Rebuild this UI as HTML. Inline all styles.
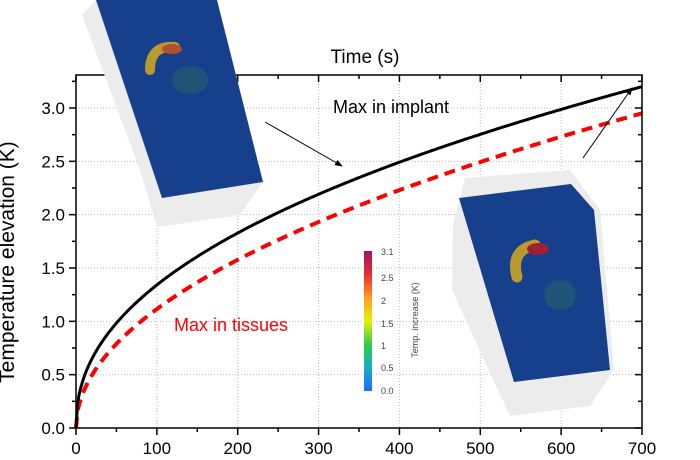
<!DOCTYPE html>
<html><head><meta charset="utf-8"><style>
html,body{margin:0;padding:0;background:#fff;width:700px;height:460px;overflow:hidden}
text{font-family:"Liberation Sans",Arial,sans-serif}
</style></head><body>
<svg id="s" width="700" height="460" xmlns="http://www.w3.org/2000/svg">
<defs>
<linearGradient id="cb" x1="0" y1="1" x2="0" y2="0">
<stop offset="0" stop-color="#1e6cff"/><stop offset="0.17" stop-color="#13b0c0"/><stop offset="0.33" stop-color="#2ecc50"/><stop offset="0.5" stop-color="#e8f000"/><stop offset="0.66" stop-color="#ffa020"/><stop offset="0.82" stop-color="#f03030"/><stop offset="1" stop-color="#a0106a"/>
</linearGradient>
<marker id="ah" markerWidth="8" markerHeight="8" refX="7" refY="4" orient="auto"><path d="M0,1 L8,4 L0,7 Z" fill="#000"/></marker>
</defs>
<g id="grid" stroke="#bbb" stroke-width="1" stroke-dasharray="1,2"></g>
<g id="curves"></g>
<g id="axes" stroke="#000" stroke-width="1.5" fill="none"></g>
<polygon points="82,15 96,0 217,0 263,182 240,215 157,227 140,170" fill="#ececec"/>
<polygon points="96,0 217,0 263,182 162,198" fill="#163f8c"/>
<path d="M150,70 Q150,45 175,47" stroke="#b89a30" stroke-width="10" fill="none" stroke-linecap="round"/>
<ellipse cx="172" cy="49" rx="10" ry="5" fill="#b05030"/>
<ellipse cx="190" cy="80" rx="18" ry="14" fill="#2a6a60" opacity="0.5"/>
<polygon points="465,178 570,170 600,210 614,370 590,406 510,416 452,290 453,225" fill="#ececec"/>
<polygon points="459,198 571,184 594,210 610,370 514,382" fill="#163f8c"/>
<path d="M517,277 Q510,250 535,245" stroke="#b89a30" stroke-width="11" fill="none" stroke-linecap="round"/>
<ellipse cx="538" cy="249" rx="11" ry="6" fill="#a02030"/>
<ellipse cx="560" cy="295" rx="16" ry="15" fill="#2a6a60" opacity="0.5"/>
<g id="lab" font-size="17" fill="#000"></g>
<text x="365" y="63" font-size="19" text-anchor="middle">Time (s)</text>
<text x="333" y="113" font-size="18">Max in implant</text>
<text x="174" y="331" font-size="18" fill="#f00">Max in tissues</text>
<line x1="265" y1="122" x2="342" y2="166" stroke="#000" stroke-width="1" marker-end="url(#ah)"/>
<line x1="583" y1="158" x2="632" y2="88" stroke="#000" stroke-width="1" marker-end="url(#ah)"/>
<text transform="translate(14,262) rotate(-90)" font-size="21" text-anchor="middle">Temperature elevation (K)</text>
<rect x="364" y="251" width="8" height="140" fill="url(#cb)"/>
<g font-size="9" fill="#444">
<text x="381" y="255">3.1</text><text x="381" y="281">2.5</text><text x="381" y="304">2</text><text x="381" y="327">1.5</text><text x="381" y="349">1</text><text x="381" y="371">0.5</text><text x="381" y="394">0.0</text>
</g>
<text transform="translate(418,320) rotate(-90)" font-size="9" fill="#444" text-anchor="middle">Temp. increase (K)</text>
</svg>
<script>
var ns="http://www.w3.org/2000/svg",L=76,R=642,B=428,T=75;
function X(t){return L+t*(R-L)/700}function Y(v){return B-v*(B-108)/3}
function el(p,n,a){var e=document.createElementNS(ns,n);for(var k in a)e.setAttribute(k,a[k]);p.appendChild(e);return e}
var g=document.getElementById('grid');
for(var t=100;t<700;t+=100)el(g,'line',{x1:X(t),x2:X(t),y1:T,y2:B});
for(var v=0.5;v<3.3;v+=0.5)el(g,'line',{x1:L,x2:R,y1:Y(v),y2:Y(v)});
var c=document.getElementById('curves');
function path(f){var d='';for(var t=0;t<=700;t+=2)d+=(t?'L':'M')+X(t).toFixed(1)+','+Y(f(t)).toFixed(1);return d}
el(c,'path',{d:path(function(t){return 2.95*Math.pow(t/700,0.5)}),stroke:'#f00','stroke-width':4,fill:'none','stroke-dasharray':'11,7'});
el(c,'path',{d:path(function(t){return 3.2*Math.pow(t/700,0.447)}),stroke:'#000','stroke-width':3,fill:'none'});
var a=document.getElementById('axes');
el(a,'rect',{x:L,y:T,width:R-L,height:B-T});
for(var t=0;t<=700;t+=50){var m=t%100==0?7:4;el(a,'line',{x1:X(t),x2:X(t),y1:B,y2:B+m});el(a,'line',{x1:X(t),x2:X(t),y1:T,y2:T+m});}
for(var v=0;v<=3.26;v+=0.25){var m=(Math.round(v*4)%2==0)?7:4;el(a,'line',{x1:L,x2:L-m,y1:Y(v),y2:Y(v)});el(a,'line',{x1:R,x2:R-m,y1:Y(v),y2:Y(v)});}
var lb=document.getElementById('lab');
for(var t=0;t<=700;t+=100){var e=el(lb,'text',{x:X(t),y:B+26,'text-anchor':'middle'});e.textContent=t;}
for(var i=0;i<=6;i++){var v=i*0.5;var e=el(lb,'text',{x:L-11,y:Y(v)+6,'text-anchor':'end'});e.textContent=v.toFixed(1);}
</script>
</body></html>
